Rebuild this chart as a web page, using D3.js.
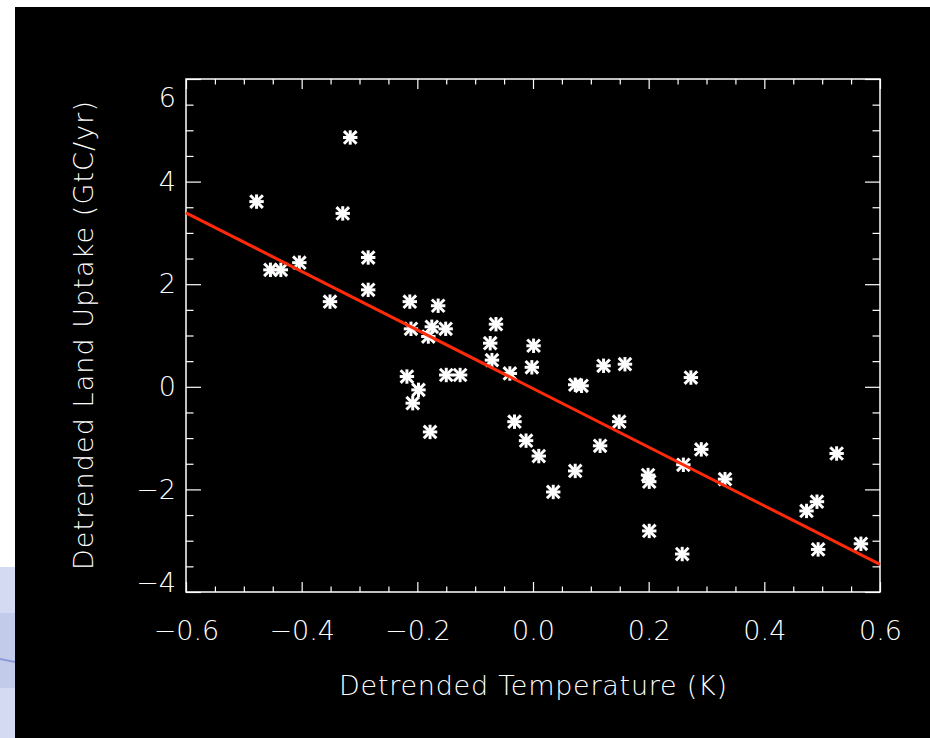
<!DOCTYPE html>
<html>
<head>
<meta charset="utf-8">
<script src="https://cdn.jsdelivr.net/npm/d3@7"></script>
<style>
  html, body { margin: 0; padding: 0; background: #000; }
  svg { display: block; }
  text { font-family: "DejaVu Sans", sans-serif; font-weight: 200; fill: #fff; }
</style>
</head>
<body>
<svg id="chart" width="930" height="738"></svg>
<script>
// Detrended temperature anomaly (K) for each year
const temperature = [
  -0.478, -0.454, -0.436, -0.404, -0.351, -0.329, -0.316, -0.285, -0.285,
  -0.213, -0.211, -0.175, -0.181, -0.164, -0.151, -0.218, -0.198, -0.208,
  -0.178, -0.150, -0.126, -0.064, -0.074, -0.071, -0.040, -0.032, -0.012,
   0.001, -0.002,  0.010,  0.035,  0.073,  0.084,  0.073,  0.116,  0.122,
   0.149,  0.159,  0.199,  0.201,  0.201,  0.260,  0.258,  0.273,  0.291,
   0.332,  0.473,  0.491,  0.493,  0.525,  0.567
];
// Detrended land carbon uptake (GtC/yr) for the same years
const landUptake = [
   3.61,  2.28,  2.28,  2.42,  1.66,  3.38,  4.86,  2.52,  1.89,
   1.66,  1.13,  1.17,  0.98,  1.58,  1.13,  0.20, -0.06, -0.32,
  -0.88,  0.23,  0.23,  1.22,  0.85,  0.52,  0.26, -0.68, -1.05,
   0.80,  0.38, -1.35, -2.05,  0.04,  0.02, -1.64, -1.15,  0.41,
  -0.68,  0.44, -1.72, -1.85, -2.81, -1.52, -3.26,  0.18, -1.22,
  -1.80, -2.42, -2.24, -3.17, -1.30, -3.06
];
// Least-squares fit: uptake = slope * T + intercept
const fitSlope = -5.71;
const fitIntercept = -0.035;

const xDomain = [-0.6, 0.6];
const yDomain = [-4, 6];
const xMajorTicks = [-0.6, -0.4, -0.2, 0.0, 0.2, 0.4, 0.6];
const yMajorTicks = [-4, -2, 0, 2, 4, 6];
const xTitle = "Detrended Temperature (K)";
const yTitle = "Detrended Land Uptake (GtC/yr)";

const svg = d3.select("#chart");
const W = 930, H = 738;
const plot = { left: 186, right: 880, top: 79, bottom: 592 };

// page backdrop
svg.append("rect").attr("width", W).attr("height", H).attr("fill", "#000");
svg.append("rect").attr("x", 0).attr("y", 0).attr("width", W).attr("height", 7).attr("fill", "#fff");
svg.append("rect").attr("x", 0).attr("y", 0).attr("width", 15).attr("height", 567).attr("fill", "#fff");
svg.append("rect").attr("x", 0).attr("y", 567).attr("width", 15).attr("height", 46).attr("fill", "#d3daf2");
svg.append("rect").attr("x", 0).attr("y", 613).attr("width", 15).attr("height", 75).attr("fill", "#c3cbeb");
svg.append("rect").attr("x", 0).attr("y", 688).attr("width", 15).attr("height", 50).attr("fill", "#d3daf2");
svg.append("line").attr("x1", 0).attr("y1", 659).attr("x2", 15).attr("y2", 662)
  .attr("stroke", "#8c9bd6").attr("stroke-width", 2);

const x = d3.scaleLinear().domain(xDomain).range([plot.left, plot.right]);
const y = d3.scaleLinear().domain(yDomain).range([plot.bottom, plot.top]);

const xMinorTicks = d3.range(-0.6, 0.6001, 0.05).filter(v => !xMajorTicks.some(m => Math.abs(m - v) < 1e-6));
const yMinorTicks = d3.range(-4, 6.001, 0.5).filter(v => !yMajorTicks.some(m => Math.abs(m - v) < 1e-6));

const fmtX = d3.format(".1f");
const fontSize = 27;

function styleAxis(g) {
  g.select(".domain").remove();
  g.selectAll(".tick line").attr("stroke", "#fff").attr("stroke-width", 1.2);
  g.selectAll("text").attr("fill", "#fff").attr("font-size", fontSize)
    .attr("font-family", "DejaVu Sans, sans-serif").attr("font-weight", 200);
}

// bottom axis with labels, ticks pointing inward
svg.append("g").attr("transform", `translate(0,${plot.bottom})`)
  .call(d3.axisBottom(x).tickValues(xMajorTicks).tickSize(-10).tickPadding(29).tickFormat(fmtX))
  .call(styleAxis);
svg.append("g").attr("transform", `translate(0,${plot.bottom})`)
  .call(d3.axisBottom(x).tickValues(xMinorTicks).tickSize(-5.5).tickFormat(""))
  .call(styleAxis);
// top axis, ticks only
svg.append("g").attr("transform", `translate(0,${plot.top})`)
  .call(d3.axisTop(x).tickValues(xMajorTicks).tickSize(-10).tickFormat(""))
  .call(styleAxis);
svg.append("g").attr("transform", `translate(0,${plot.top})`)
  .call(d3.axisTop(x).tickValues(xMinorTicks).tickSize(-5.5).tickFormat(""))
  .call(styleAxis);

// left axis with labels
const yAxisG = svg.append("g").attr("transform", `translate(${plot.left},0)`)
  .call(d3.axisLeft(y).tickValues(yMajorTicks).tickSize(-15).tickPadding(10).tickFormat(d3.format("d")))
  .call(styleAxis);
// end labels sit inside the axis span
yAxisG.selectAll(".tick").filter(d => d === 6).select("text").attr("y", 19);
yAxisG.selectAll(".tick").filter(d => d === -4).select("text").attr("y", -9);
svg.append("g").attr("transform", `translate(${plot.left},0)`)
  .call(d3.axisLeft(y).tickValues(yMinorTicks).tickSize(-7.5).tickFormat(""))
  .call(styleAxis);
// right axis, ticks only
svg.append("g").attr("transform", `translate(${plot.right},0)`)
  .call(d3.axisRight(y).tickValues(yMajorTicks).tickSize(-15).tickFormat(""))
  .call(styleAxis);
svg.append("g").attr("transform", `translate(${plot.right},0)`)
  .call(d3.axisRight(y).tickValues(yMinorTicks).tickSize(-7.5).tickFormat(""))
  .call(styleAxis);

// plot frame
svg.append("rect")
  .attr("x", plot.left).attr("y", plot.top)
  .attr("width", plot.right - plot.left).attr("height", plot.bottom - plot.top)
  .attr("fill", "none").attr("stroke", "#fff").attr("stroke-width", 1.5);

// asterisk markers
const points = temperature.map((t, i) => ({ t, u: landUptake[i] }));
const armH = 7.2, armD = 6.3;
const star = svg.append("g").attr("stroke", "#fff").attr("stroke-width", 3).attr("stroke-linecap", "butt");
points.forEach(p => {
  const cx = x(p.t), cy = y(p.u);
  const gp = star.append("g").attr("transform", `translate(${cx},${cy})`);
  gp.append("line").attr("x1", -armH).attr("x2", armH).attr("y1", 0).attr("y2", 0);
  gp.append("line").attr("x1", 0).attr("x2", 0).attr("y1", -armH).attr("y2", armH);
  gp.append("line").attr("x1", -armD).attr("x2", armD).attr("y1", -armD).attr("y2", armD);
  gp.append("line").attr("x1", -armD).attr("x2", armD).attr("y1", armD).attr("y2", -armD);
});

// regression line
const fitLine = d3.line().x(d => x(d)).y(d => y(fitSlope * d + fitIntercept));
svg.append("path").datum(xDomain)
  .attr("d", fitLine)
  .attr("fill", "none").attr("stroke", "#ff2a0a").attr("stroke-width", 3);

// axis titles
svg.append("text")
  .attr("x", (plot.left + plot.right) / 2).attr("y", 695)
  .attr("text-anchor", "middle").attr("font-size", fontSize)
  .attr("textLength", 388).attr("lengthAdjust", "spacing")
  .text(xTitle);
svg.append("text")
  .attr("transform", `translate(93,${(plot.top + plot.bottom) / 2}) rotate(-90)`)
  .attr("text-anchor", "middle").attr("font-size", fontSize)
  .attr("textLength", 469).attr("lengthAdjust", "spacing")
  .text(yTitle);
</script>
</body>
</html>
